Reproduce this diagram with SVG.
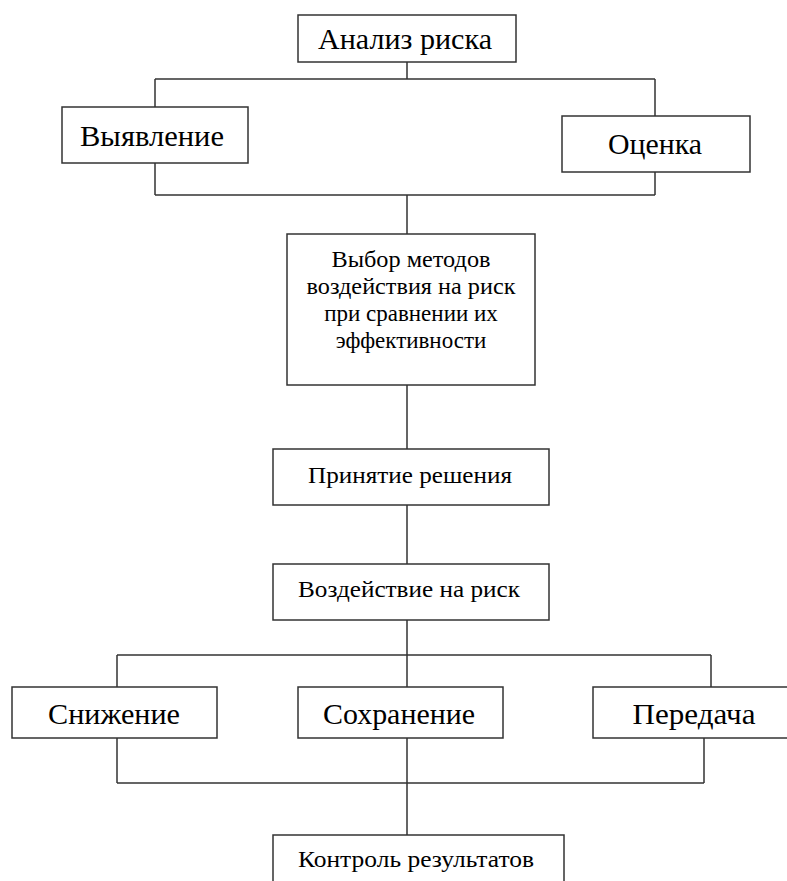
<svg xmlns="http://www.w3.org/2000/svg" width="787" height="881" viewBox="0 0 787 881">
<style>
.box{fill:#fff;stroke:#333;stroke-width:1.5}
.ln{fill:none;stroke:#333;stroke-width:1.5}
.big{font-family:"Liberation Serif","DejaVu Serif",serif;font-size:30px;fill:#000;text-anchor:middle}
.sm{font-family:"Liberation Serif","DejaVu Serif",serif;font-size:23px;fill:#000;text-anchor:middle}
</style>
<rect width="787" height="881" fill="#fff"/>
<g id="connectors" class="ln">
<path d="M407 62V79M155 79H655M155 79V107M655 79V116"/>
<path d="M155 163V195M655 172V195M155 195H655M407 195V234"/>
<path d="M407 385V449M407 505V564M407 620V655M117 655H711M117 655V687M407 655V687M711 655V687"/>
<path d="M117 738V783M407 738V783M704 738V783M117 783H704M407 783V835"/>
</g>
<g id="n1"><rect class="box" x="298" y="15" width="218" height="47"/><text class="big" x="405" y="49" textLength="174" lengthAdjust="spacingAndGlyphs">Анализ риска</text></g>
<g id="n2"><rect class="box" x="62" y="107" width="186" height="56"/><text class="big" x="152" y="146" textLength="144" lengthAdjust="spacingAndGlyphs">Выявление</text></g>
<g id="n3"><rect class="box" x="562" y="116" width="188" height="56"/><text class="big" x="655" y="154" textLength="94" lengthAdjust="spacingAndGlyphs">Оценка</text></g>
<g id="n4"><rect class="box" x="287" y="234" width="248" height="151"/>
<text class="sm" x="411" y="267" textLength="159" lengthAdjust="spacingAndGlyphs">Выбор методов</text>
<text class="sm" x="411" y="294" textLength="209" lengthAdjust="spacingAndGlyphs">воздействия на риск</text>
<text class="sm" x="411" y="321">при сравнении их</text>
<text class="sm" x="411" y="348">эффективности</text></g>
<g id="n5"><rect class="box" x="273" y="449" width="276" height="56"/><text class="sm" x="410" y="483" textLength="204" lengthAdjust="spacingAndGlyphs">Принятие решения</text></g>
<g id="n6"><rect class="box" x="273" y="564" width="276" height="56"/><text class="sm" x="409" y="597" textLength="222" lengthAdjust="spacingAndGlyphs">Воздействие на риск</text></g>
<g id="n7"><rect class="box" x="12" y="687" width="205" height="51"/><text class="big" x="114" y="724" textLength="132" lengthAdjust="spacingAndGlyphs">Снижение</text></g>
<g id="n8"><rect class="box" x="298" y="687" width="205" height="51"/><text class="big" x="399" y="724" textLength="152" lengthAdjust="spacingAndGlyphs">Сохранение</text></g>
<g id="n9"><rect class="box" x="593" y="687" width="210" height="51"/><text class="big" x="694" y="724" textLength="123" lengthAdjust="spacingAndGlyphs">Передача</text></g>
<g id="n10"><rect class="box" x="273" y="835" width="291" height="60"/><text class="sm" x="416" y="867" textLength="236" lengthAdjust="spacingAndGlyphs">Контроль результатов</text></g>
</svg>
